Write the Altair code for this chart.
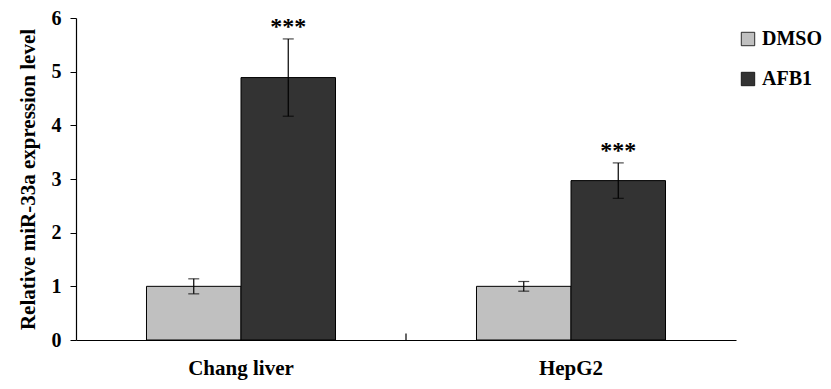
import altair as alt
import pandas as pd

cell_lines = ["Chang liver", "Chang liver", "HepG2", "HepG2"]
treatments = ["DMSO", "AFB1", "DMSO", "AFB1"]
means = [1.0, 4.89, 1.0, 2.97]
errors = [0.14, 0.72, 0.09, 0.33]
stars = ["", "***", "", "***"]

df = pd.DataFrame({"cell": cell_lines, "treat": treatments, "mean": means,
                   "err": errors, "star": stars})
df["lo"] = df["mean"] - df["err"]
df["hi"] = df["mean"] + df["err"]

FONT = "Liberation Serif"
order = ["DMSO", "AFB1"]

x = alt.X("cell:N", title=None, sort=["Chang liver", "HepG2"],
          scale=alt.Scale(paddingInner=0, paddingOuter=0),
          axis=alt.Axis(labelAngle=0, ticks=False, labelFont=FONT, labelFontSize=21,
                        labelFontWeight="bold", labelColor="black", labelPadding=17,
                        domainColor="black", domainWidth=1.2))
xo = alt.XOffset("treat:N", sort=order, scale=alt.Scale(paddingInner=0, paddingOuter=0.746))
yscale = alt.Scale(domain=[0, 6], nice=False)

bars = alt.Chart(df).mark_bar(stroke="black", strokeWidth=1).encode(
    x=x, xOffset=xo,
    y=alt.Y("mean:Q", scale=yscale, title="Relative miR-33a expression level",
            axis=alt.Axis(values=[0, 1, 2, 3, 4, 5, 6], format="d", grid=False, tickSize=6,
                          tickColor="black", domainColor="black", domainWidth=1.2,
                          labelFont=FONT, labelFontSize=20, labelFontWeight="bold",
                          labelColor="black", labelPadding=9,
                          titleFont=FONT, titleFontSize=21, titleFontWeight="bold",
                          titleColor="black", titlePadding=13)),
    color=alt.Color("treat:N", sort=order, title=None,
                    scale=alt.Scale(domain=order, range=["#c0c0c0", "#333333"]),
                    legend=alt.Legend(orient="none", legendX=662, legendY=11,
                                      symbolType="square", symbolSize=180,
                                      symbolStrokeColor="black", symbolStrokeWidth=0.8,
                                      labelFont=FONT, labelFontSize=20,
                                      labelFontWeight="bold", labelColor="black",
                                      rowPadding=20, labelOffset=4))
)

rules = alt.Chart(df).mark_rule(color="black", strokeWidth=1.2).encode(
    x=x, xOffset=xo, y=alt.Y("lo:Q", scale=yscale), y2="hi:Q")
caps_hi = alt.Chart(df).mark_tick(color="black", orient="horizontal", size=11,
                                  thickness=1.2).encode(
    x=x, xOffset=xo, y=alt.Y("hi:Q", scale=yscale))
caps_lo = alt.Chart(df).mark_tick(color="black", orient="horizontal", size=11,
                                  thickness=1.2).encode(
    x=x, xOffset=xo, y=alt.Y("lo:Q", scale=yscale))
text = alt.Chart(df).mark_text(font=FONT, fontSize=24, fontWeight="bold",
                               baseline="middle", dy=-12, color="black").encode(
    x=x, xOffset=xo, y=alt.Y("hi:Q", scale=yscale), text="star:N")

mid = pd.DataFrame({"cell": ["HepG2"], "y0": [0.0], "y1": [0.12]})
midtick = alt.Chart(mid).mark_rule(color="black", strokeWidth=1.2).encode(
    x=alt.X("cell:N", sort=["Chang liver", "HepG2"], bandPosition=0),
    y=alt.Y("y0:Q", scale=yscale), y2="y1:Q")

chart = alt.layer(bars, rules, caps_hi, caps_lo, text, midtick).properties(
    width=660, height=322,
    background="white",
    autosize=alt.AutoSizeParams(type="none"),
    padding={"left": 68, "top": 10, "right": 87, "bottom": 41},
).configure_view(strokeWidth=0, stroke="transparent")

chart.save("out.html", embed_options={"renderer": "svg", "actions": False})
